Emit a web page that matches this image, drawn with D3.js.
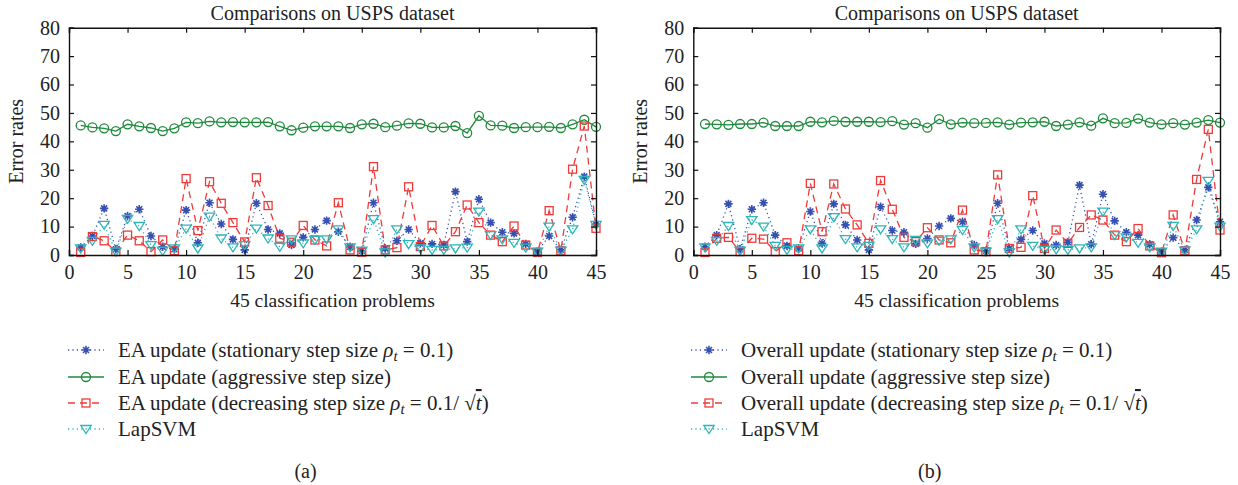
<!DOCTYPE html>
<html><head><meta charset="utf-8">
<script src="https://cdn.jsdelivr.net/npm/d3@7/dist/d3.min.js"></script>
<style>body{margin:0;background:#fff;} text{font-family:"Liberation Serif","DejaVu Serif",serif;fill:#222;}</style>
</head><body>
<script>
// ---------- data ----------
const problems = d3.range(1, 46);
const xTicks = [0, 5, 10, 15, 20, 25, 30, 35, 40, 45];
const yTicks = [0, 10, 20, 30, 40, 50, 60, 70, 80];

// Panel (a): EA update
const eaStationary = [2.7,6.7,16.4,2.0,13.7,16.1,6.7,2.9,2.0,15.8,4.3,18.4,10.9,5.5,1.8,18.2,9.0,7.6,3.5,6.2,9.0,12.1,8.2,2.9,1.5,18.4,2.3,5.0,9.0,4.1,3.9,3.5,22.3,4.7,19.6,11.4,8.0,7.6,3.9,1.2,6.7,1.8,13.3,27.6,10.9];
const eaAggressive = [45.6,44.9,44.6,43.6,46.0,45.3,44.7,43.6,44.6,46.7,46.4,47.0,46.7,46.8,46.7,46.7,46.8,45.3,43.9,44.8,45.3,45.3,45.3,44.7,46.0,46.2,45.0,45.5,46.3,46.2,44.9,44.9,45.4,42.9,49.0,45.6,45.5,44.7,45.0,45.0,45.1,44.7,46.0,47.6,45.1];
const eaDecreasing = [0.9,6.5,5.0,1.2,7.0,5.0,1.2,5.3,1.5,26.9,8.6,25.8,18.2,11.4,4.6,27.2,17.4,5.9,4.5,10.4,5.3,3.2,18.4,1.8,1.0,31.1,1.8,2.6,24.0,3.0,10.4,3.2,8.2,17.6,11.4,7.0,4.7,10.2,3.5,0.9,15.6,1.5,30.2,45.4,9.4];
const eaLapSVM = [2.3,5.0,10.6,1.2,12.7,10.2,3.5,1.5,2.3,9.3,2.3,13.5,5.8,2.7,3.5,9.3,5.8,2.9,5.5,4.1,5.3,5.5,9.0,2.7,1.5,12.6,0.9,9.0,3.8,2.3,1.8,1.8,2.3,2.6,15.3,7.0,5.5,4.3,2.6,1.2,10.0,1.5,9.0,26.4,10.6];

// Panel (b): Overall update
const ovStationary = [2.9,7.0,18.0,2.0,16.1,18.4,7.0,3.2,2.3,15.3,4.1,18.0,10.6,5.3,1.8,17.0,8.6,8.0,3.9,5.8,10.2,12.9,11.7,3.5,1.5,18.2,2.3,5.5,8.6,4.1,3.5,4.5,24.6,3.8,21.4,12.0,8.0,7.0,3.8,1.2,6.1,1.8,12.3,23.8,11.7];
const ovAggressive = [46.1,46.0,45.8,46.1,46.1,46.6,45.4,45.4,45.4,46.9,46.7,47.2,46.9,46.9,46.9,46.8,47.1,45.9,46.4,44.8,47.8,46.0,46.6,46.4,46.5,46.7,45.9,46.6,46.7,46.9,45.4,45.9,46.7,45.5,48.1,46.4,46.5,48.0,46.6,46.0,46.4,45.9,46.6,47.5,46.6];
const ovDecreasing = [0.9,5.9,6.2,1.2,5.9,5.6,1.2,4.3,1.5,25.2,8.2,25.0,16.2,10.6,4.1,26.2,16.1,6.2,4.7,9.6,5.3,4.3,15.8,1.8,1.2,28.2,2.3,2.7,20.9,2.3,8.8,4.1,9.7,14.1,12.3,7.0,4.7,9.3,3.2,0.8,14.1,1.5,26.6,44.2,8.8];
const ovLapSVM = [2.7,5.0,10.2,1.5,12.3,10.0,3.2,1.8,2.3,9.0,2.3,13.3,5.6,2.7,3.2,9.0,5.6,2.7,5.3,4.1,5.0,5.5,8.8,2.7,1.2,12.6,0.9,9.0,3.2,1.8,2.0,1.8,2.3,2.7,15.3,7.0,6.2,4.3,2.7,1.2,10.2,1.5,9.0,26.1,10.0];

const titleText = "Comparisons on USPS dataset";
const xLabelText = "45 classification problems";
const yLabelText = "Error rates";
const legendA = ["EA update (stationary step size ", "EA update (aggressive step size)", "EA update (decreasing step size ", "LapSVM"];
const legendB = ["Overall update (stationary step size ", "Overall update (aggressive step size)", "Overall update (decreasing step size ", "LapSVM"];

// ---------- styles ----------
const C = {blue:"#3550b0", green:"#1e8a3c", red:"#f03a3a", cyan:"#2fb5b8"};
const seriesStyle = [
  {color:C.blue, dash:"1.2,3.2", width:1.3, marker:"star"},
  {color:C.green, dash:null, width:1.3, marker:"circle"},
  {color:C.red, dash:"7,5", width:1.3, marker:"square"},
  {color:C.cyan, dash:"1.2,3.2", width:1.3, marker:"tri"}
];

const W = 1238, H = 485;
const svg = d3.select("body").append("svg").attr("width", W).attr("height", H);

function drawMarker(g, type, x, y, color) {
  if (type === "circle") {
    g.append("circle").attr("cx", x).attr("cy", y).attr("r", 4.5)
      .attr("fill", "none").attr("stroke", color).attr("stroke-width", 1.3);
  } else if (type === "square") {
    g.append("rect").attr("x", x - 4).attr("y", y - 4).attr("width", 8).attr("height", 8)
      .attr("fill", "none").attr("stroke", color).attr("stroke-width", 1.3);
  } else if (type === "tri") {
    const s = 5.2;
    g.append("path").attr("d", `M${x - s},${y - 3.5}L${x + s},${y - 3.5}L${x},${y + 4.5}Z`)
      .attr("fill", "none").attr("stroke", color).attr("stroke-width", 1.3);
  } else if (type === "star") {
    const r = 4.2;
    let d = "";
    for (let k = 0; k < 4; k++) {
      const a = k * Math.PI / 4;
      d += `M${x - r * Math.cos(a)},${y - r * Math.sin(a)}L${x + r * Math.cos(a)},${y + r * Math.sin(a)}`;
    }
    g.append("path").attr("d", d).attr("stroke", color).attr("stroke-width", 1.6).attr("fill", "none");
  }
}

function panel(x0, x1, series, legendTexts, legendX, caption) {
  const yTop = 27.7, yBot = 255;
  const x = d3.scaleLinear().domain([0, 45]).range([x0, x1]);
  const y = d3.scaleLinear().domain([0, 80]).range([yBot, yTop]);
  const g = svg.append("g");

  // series
  series.forEach((vals, si) => {
    const st = seriesStyle[si];
    const line = d3.line().x((d, i) => x(problems[i])).y(d => y(d));
    g.append("path").datum(vals).attr("d", line).attr("fill", "none")
      .attr("stroke", st.color).attr("stroke-width", st.width)
      .attr("stroke-dasharray", st.dash);
  });
  series.forEach((vals, si) => {
    const st = seriesStyle[si];
    vals.forEach((v, i) => drawMarker(g, st.marker, x(problems[i]), y(v), st.color));
  });

  // axes with inward ticks on all four sides
  const tl = 5;
  g.append("g").attr("transform", `translate(0,${yBot})`)
    .call(d3.axisBottom(x).tickValues(xTicks).tickSize(-tl).tickPadding(10));
  g.append("g").attr("transform", `translate(0,${yTop})`)
    .call(d3.axisTop(x).tickValues(xTicks).tickSize(-tl).tickFormat(""));
  g.append("g").attr("transform", `translate(${x0},0)`)
    .call(d3.axisLeft(y).tickValues(yTicks).tickSize(-tl).tickPadding(9));
  g.append("g").attr("transform", `translate(${x1},0)`)
    .call(d3.axisRight(y).tickValues(yTicks).tickSize(-tl).tickFormat(""));
  g.selectAll(".domain").attr("stroke", "#111").attr("stroke-width", 1.4);
  g.selectAll(".tick line").attr("stroke", "#111").attr("stroke-width", 1.2);
  g.selectAll(".tick text").style("font-family", "Liberation Serif, serif").style("font-size", "20px").attr("fill", "#222");

  // title & labels
  g.append("text").attr("x", (x0 + x1) / 2).attr("y", 20).attr("text-anchor", "middle")
    .style("font-size", "20px").text(titleText);
  g.append("text").attr("x", (x0 + x1) / 2).attr("y", 307).attr("text-anchor", "middle")
    .style("font-size", "19.5px").text(xLabelText);
  g.append("text").attr("transform", `translate(${x0 - 46},${(yTop + yBot) / 2}) rotate(-90)`)
    .attr("text-anchor", "middle").style("font-size", "20px").text(yLabelText);

  // legend
  const rows = [350, 377, 403, 429];
  rows.forEach((ry, i) => {
    const st = seriesStyle[i];
    g.append("line").attr("x1", legendX).attr("x2", legendX + 36).attr("y1", ry).attr("y2", ry)
      .attr("stroke", st.color).attr("stroke-width", st.width).attr("stroke-dasharray", st.dash);
    drawMarker(g, st.marker, legendX + 18, ry, st.color);
    const t = g.append("text").attr("x", legendX + 50).attr("y", ry + 7).style("font-size", "21px");
    t.append("tspan").text(legendTexts[i]);
    if (i === 0 || i === 2) {
      t.append("tspan").style("font-style", "italic").text("ρ");
      t.append("tspan").style("font-style", "italic").style("font-size", "15px").attr("dy", 4).text("t");
      t.append("tspan").attr("dy", -4).text(" = 0.1");
      if (i === 2) {
        t.append("tspan").text("/ √");
        t.append("tspan").style("font-style", "italic").style("text-decoration", "overline").text("t");
      }
      t.append("tspan").text(")");
    }
  });

  g.append("text").attr("x", (x0 + x1) / 2 - 27).attr("y", 478).attr("text-anchor", "middle")
    .style("font-size", "20px").text(caption);
}

panel(69, 596, [eaStationary, eaAggressive, eaDecreasing, eaLapSVM], legendA, 68, "(a)");
panel(693.3, 1220, [ovStationary, ovAggressive, ovDecreasing, ovLapSVM], legendB, 691, "(b)");
</script>
</body></html>
